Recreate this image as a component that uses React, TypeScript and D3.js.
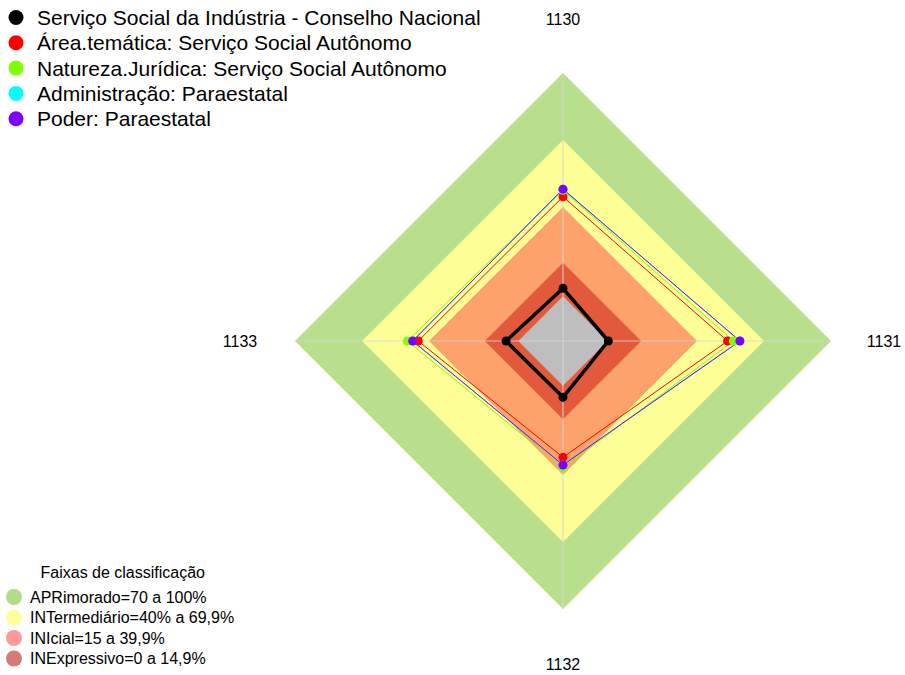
import React from 'react';
import * as d3 from 'd3';

// axes of the radar, clockwise from the top
const axes = ['1130', '1131', '1132', '1133'];

// series values (%) per axis, same order as axes
const seriesNames = [
  'Serviço Social da Indústria - Conselho Nacional',
  'Área.temática: Serviço Social Autônomo',
  'Natureza.Jurídica: Serviço Social Autônomo',
  'Administração: Paraestatal',
  'Poder: Paraestatal',
];
const seriesColors = ['#000000', '#ff0000', '#80ff00', '#00ffff', '#8000ff'];
const sesiCN = [3.6, 0.3, 5.2, 5.5];
const areaTematica = [44.6, 53.7, 32.1, 44.8];
const naturezaJuridica = [47.5, 56.3, 36.8, 49.7];
const administracao = [48.0, 59.2, 35.5, 47.3];
const poder = [48.0, 59.2, 35.5, 47.3];
const seriesValues = [sesiCN, areaTematica, naturezaJuridica, administracao, poder];

// classification bands
const bandLimits = [100, 70, 40, 15, 0];
const bandColors = ['#b8df8c', '#fefe96', '#fda26a', '#e25a3b', '#bebebe'];
const bandLegend = [
  'APRimorado=70 a 100%',
  'INTermediário=40% a 69,9%',
  'INIcial=15 a 39,9%',
  'INExpressivo=0 a 14,9%',
];
const bandLegendColors = ['#b2dc88', '#ffff9a', '#ff9a9a', '#d97878'];

export default function App() {
  const width = 905;
  const height = 675;
  const cx = 563;
  const cy = 341;
  const R = 268;

  // fmsb-like radial scale: value 0 sits at R/6 from the centre
  const r = d3.scaleLinear().domain([-20, 100]).range([0, R]);
  const angle = d3.scaleLinear().domain([0, axes.length]).range([0, 2 * Math.PI]);

  const pt = (v: number, i: number): [number, number] => {
    const a = angle(i);
    return [cx + r(v) * Math.sin(a), cy - r(v) * Math.cos(a)];
  };

  const line = d3.line<[number, number]>().curve(d3.curveLinearClosed);

  const font = 'Liberation Sans, Arial, sans-serif';

  return (
    <svg width={width} height={height} style={{ position: 'absolute', left: 0, top: 0, background: '#fff' }}>
      {/* bands */}
      {bandLimits.map((b, k) => (
        <path key={'band' + k} d={line(axes.map((_, i) => pt(b, i))) || ''} fill={bandColors[k]} stroke="none" />
      ))}

      {/* axis lines */}
      {axes.map((_, i) => {
        const [x, y] = pt(100, i);
        return <line key={'ax' + i} x1={cx} y1={cy} x2={x} y2={y} stroke="#d6d6d6" strokeWidth={1.2} opacity={0.8} />;
      })}

      {/* series lines */}
      {seriesValues.map((vals, s) => (
        <path
          key={'s' + s}
          d={line(vals.map((v, i) => pt(v, i))) || ''}
          fill="none"
          stroke={seriesColors[s]}
          strokeWidth={s === 0 ? 3.5 : 1}
          strokeLinejoin="round"
        />
      ))}
      {seriesValues.map((vals, s) =>
        vals.map((v, i) => {
          const [x, y] = pt(v, i);
          return <circle key={'p' + s + '-' + i} cx={x} cy={y} r={4.5} fill={seriesColors[s]} />;
        })
      )}

      {/* axis labels */}
      <text x={cx} y={25} textAnchor="middle" fontFamily={font} fontSize={16} fill="#000">{axes[0]}</text>
      <text x={884} y={347} textAnchor="middle" fontFamily={font} fontSize={16} fill="#000">{axes[1]}</text>
      <text x={cx} y={670} textAnchor="middle" fontFamily={font} fontSize={16} fill="#000">{axes[2]}</text>
      <text x={240} y={347} textAnchor="middle" fontFamily={font} fontSize={16} fill="#000">{axes[3]}</text>

      {/* series legend */}
      {seriesNames.map((n, s) => (
        <g key={'lg' + s}>
          <circle cx={16} cy={17.5 + s * 25.3} r={7.5} fill={seriesColors[s]} />
          <text x={37} y={25 + s * 25.3} fontFamily={font} fontSize={21} fill="#000">{n}</text>
        </g>
      ))}

      {/* band legend */}
      <text x={40.5} y={578} fontFamily={font} fontSize={16} fill="#000">Faixas de classificação</text>
      {bandLegend.map((n, k) => (
        <g key={'bl' + k}>
          <circle cx={14} cy={597 + k * 20.5} r={8} fill={bandLegendColors[k]} />
          <text x={30} y={602.5 + k * 20.5} fontFamily={font} fontSize={16} fill="#000">{n}</text>
        </g>
      ))}
    </svg>
  );
}
